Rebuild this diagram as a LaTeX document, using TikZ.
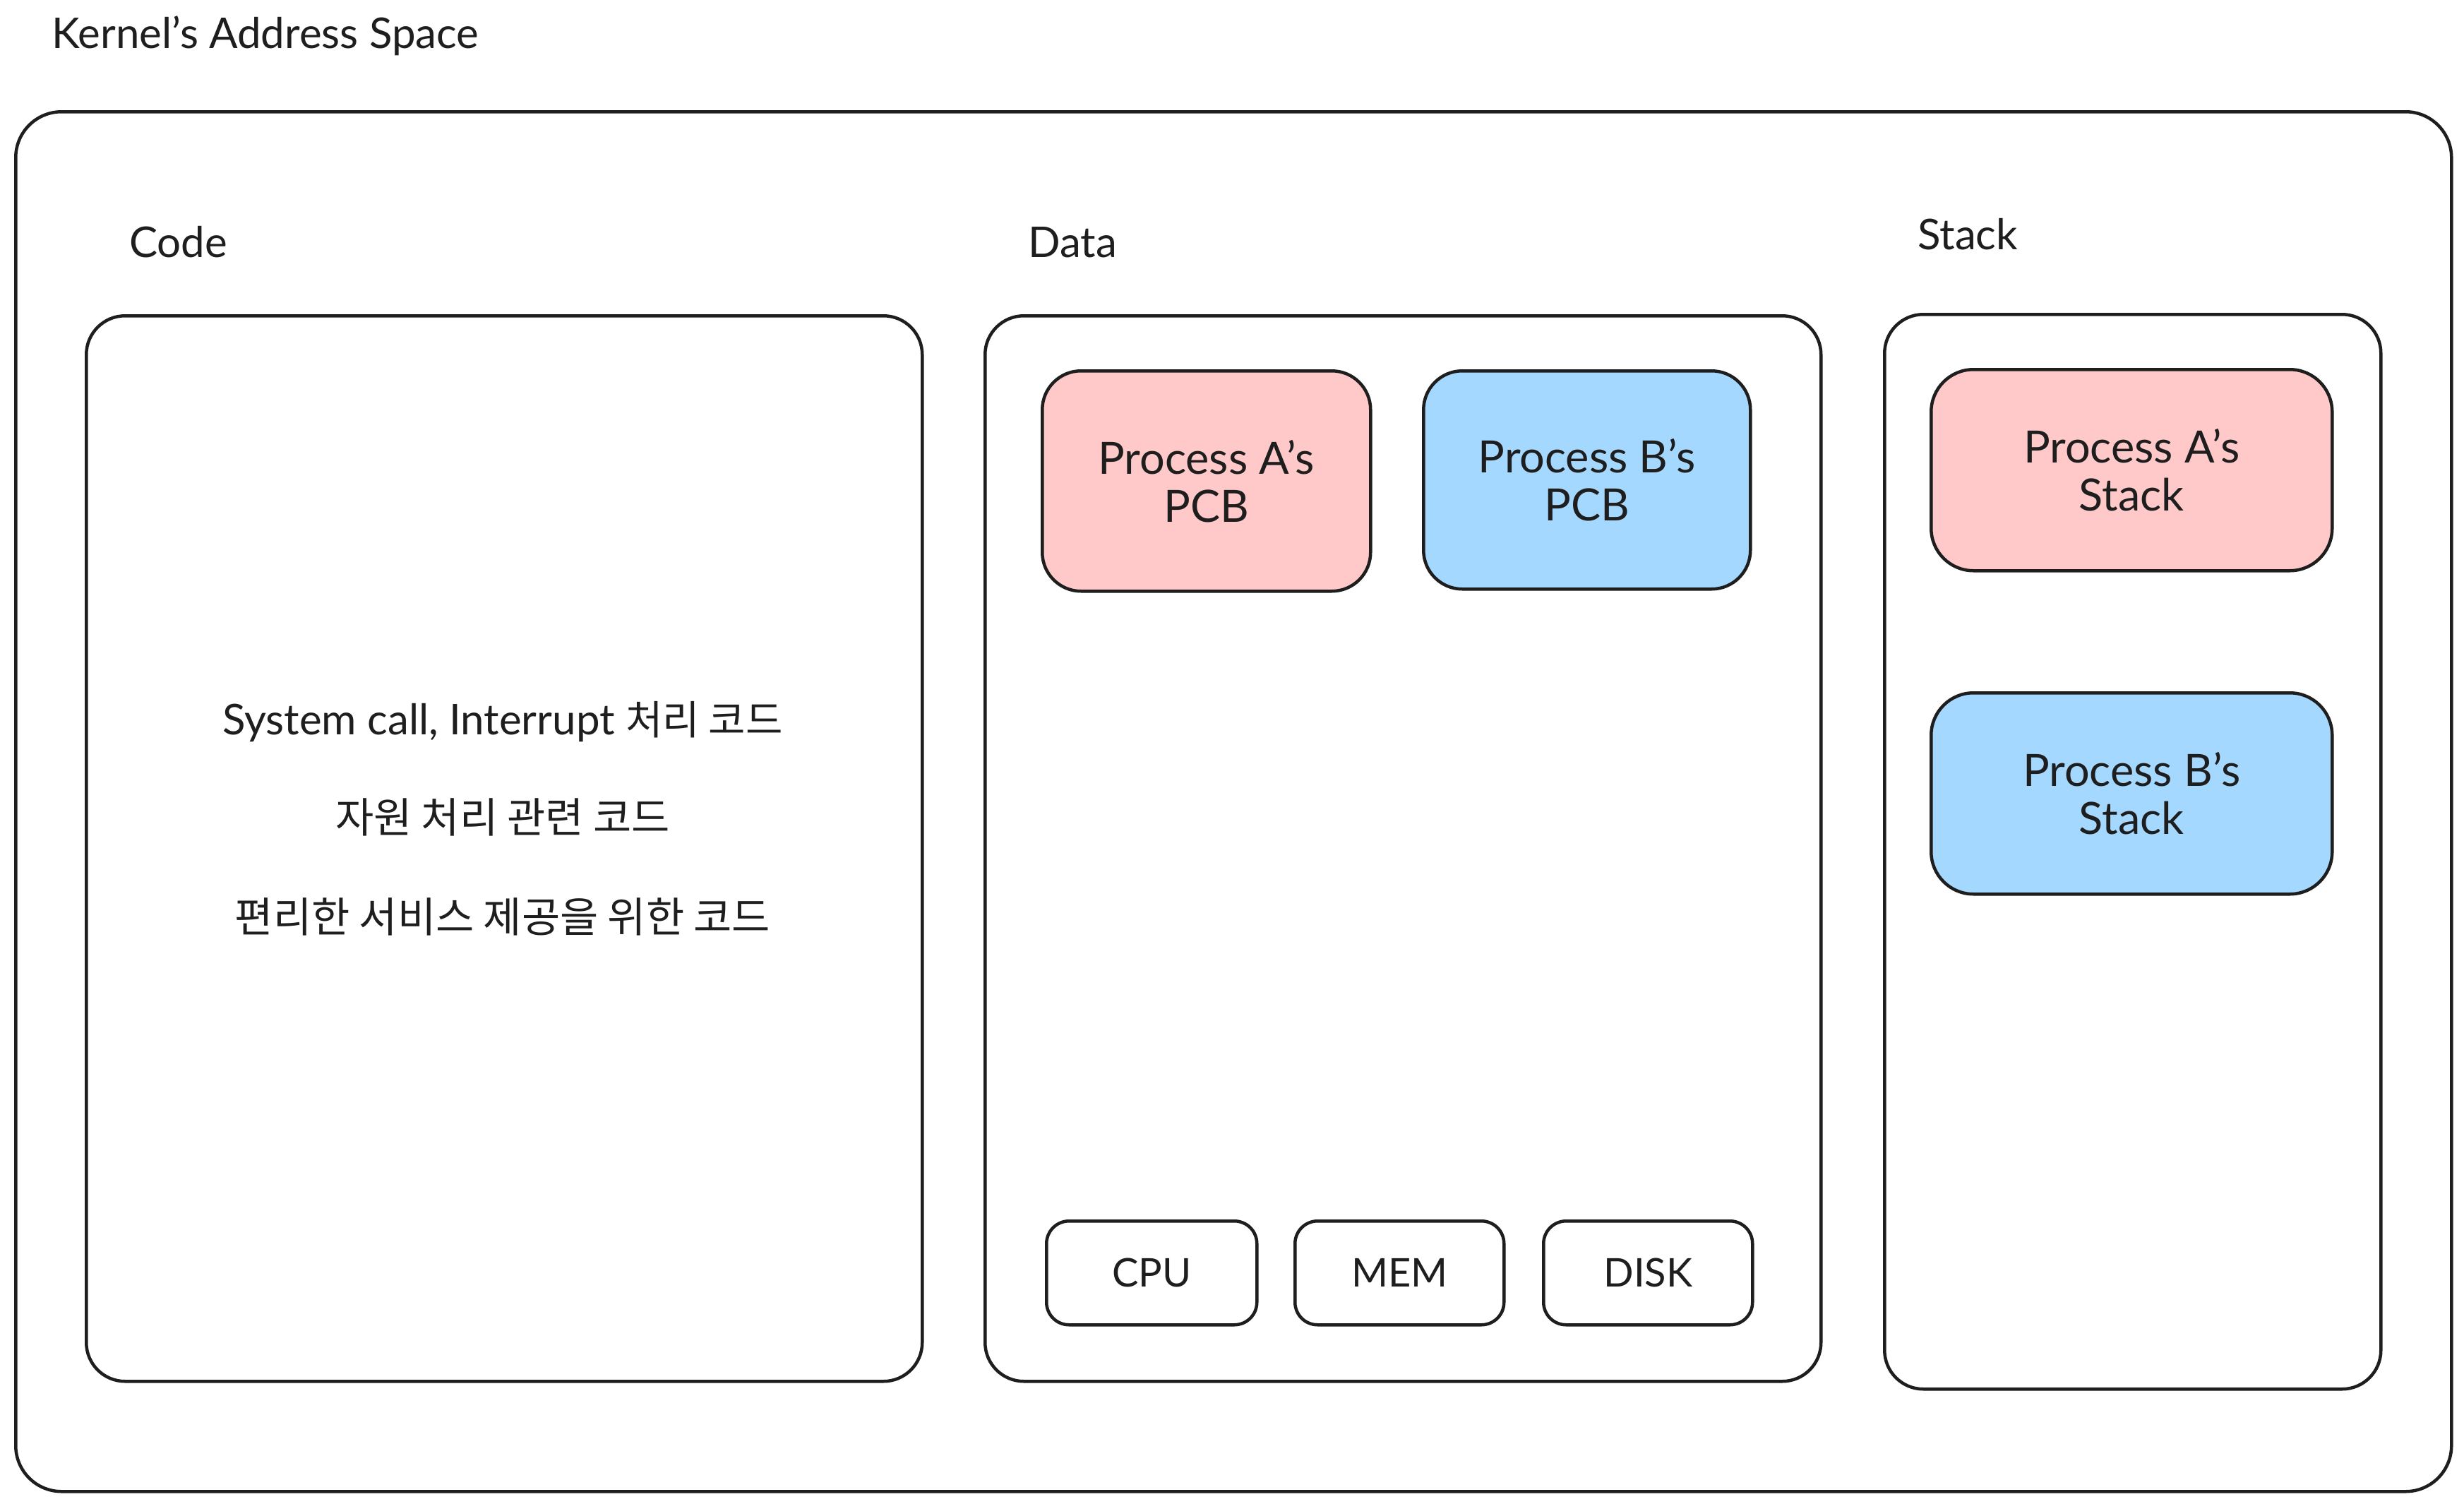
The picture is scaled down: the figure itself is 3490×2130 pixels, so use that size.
\documentclass[tikz,border=0pt]{standalone}
\usepackage{fontspec}
\setmainfont{Lato}
\newfontfamily\kr{Noto Sans CJK KR}
\definecolor{ink}{HTML}{1E1E1E}
\definecolor{pinkf}{HTML}{FFC9C9}
\definecolor{bluef}{HTML}{A5D8FF}
\begin{document}
\begin{tikzpicture}[x=1pt,y=-1pt,
  box/.style={draw=ink, line width=4.5pt, rounded corners=#1, inner sep=0pt, anchor=north west},
  lbl/.style={text=ink, anchor=west, inner sep=0pt, font=\fontsize{60}{70}\selectfont},
  big/.style={text=ink, align=center, font=\fontsize{63}{68}\selectfont},
  small/.style={text=ink, align=center, font=\fontsize{56}{64}\selectfont},
  ctext/.style={text=ink, inner sep=0pt, font=\fontsize{60}{70}\selectfont}
]
\fill[white] (0,0) rectangle (3490,2130);
\useasboundingbox (0,0) rectangle (3490,2130);

\node[lbl] (title) at (73,51) {Kernel's Address Space};

\node[box=65, minimum width=3450, minimum height=1954] (outer) at (20,156) {};

\node[lbl] (codelbl) at (183,343) {Code};
\node[lbl] (datalbl) at (1456,343) {Data};
\node[lbl] (stacklbl) at (2716,332) {Stack};

\node[box=55, minimum width=1184, minimum height=1509] (code) at (120,445) {};
\node[box=55, minimum width=1184, minimum height=1509] (data) at (1393,445) {};
\node[box=55, minimum width=703, minimum height=1522] (stack) at (2667,443) {};

\node[ctext] (c1) at (712,1022) {System call, Interrupt {\kr\fontsize{57}{66}\selectfont 처리 코드}};
\node[ctext] (c2) at (712,1157) {\kr\fontsize{59}{66}\selectfont 자원 처리 관련 코드};
\node[ctext] (c3) at (712,1298) {\kr\fontsize{59}{66}\selectfont 편리한 서비스 제공을 위한 코드};

\node[box=55, fill=pinkf, minimum width=465, minimum height=312] (pcbA) at (1474,523) {};
\node[big] at (pcbA.center) {Process A's\\PCB};
\node[box=55, fill=bluef, minimum width=463, minimum height=309] (pcbB) at (2014,523) {};
\node[big] at (pcbB.center) {Process B's\\PCB};

\node[box=32, minimum width=298, minimum height=147] (cpu) at (1480,1727) {};
\node[small] at (cpu.center) {CPU};
\node[box=32, minimum width=296, minimum height=147] (mem) at (1832,1727) {};
\node[small] at (mem.center) {MEM};
\node[box=32, minimum width=296, minimum height=147] (disk) at (2184,1727) {};
\node[small] at (disk.center) {DISK};

\node[box=60, fill=pinkf, minimum width=568, minimum height=285] (stA) at (2733,521) {};
\node[big] at (stA.center) {Process A's\\Stack};
\node[box=60, fill=bluef, minimum width=568, minimum height=285] (stB) at (2733,979) {};
\node[big] at (stB.center) {Process B's\\Stack};
\end{tikzpicture}
\end{document}
